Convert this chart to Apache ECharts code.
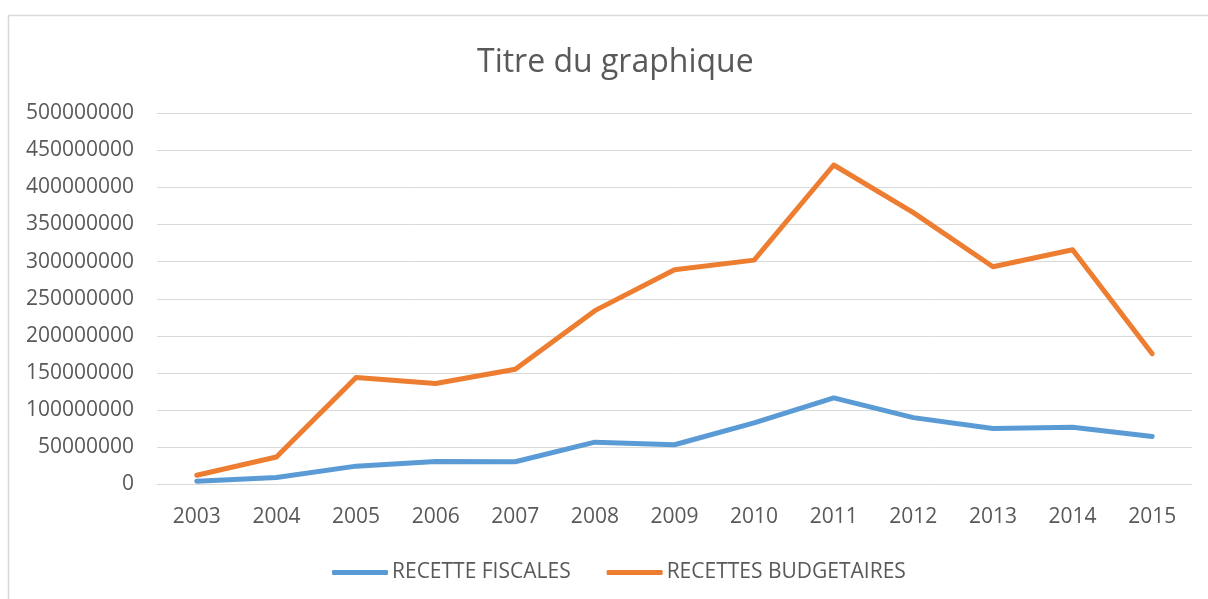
<!DOCTYPE html>
<html><head><meta charset="utf-8">
<script src="https://cdn.jsdelivr.net/npm/echarts@6/dist/echarts.min.js"></script>
<style>html,body{margin:0;padding:0;background:#fff}#c{width:1208px;height:599px}</style>
</head><body><div id="c"></div>
<script>
const years = ['2003','2004','2005','2006','2007','2008','2009','2010','2011','2012','2013','2014','2015'];
const recetteFiscales = [4500000, 9500000, 24700000, 31000000, 30600000, 57000000, 53500000, 83000000, 116500000, 90000000, 75500000, 77000000, 64500000];
const recettesBudgetaires = [12500000, 37000000, 144000000, 136000000, 155000000, 234000000, 289000000, 302000000, 430000000, 366000000, 293000000, 316000000, 176000000];
const seriesNames = ['RECETTE FISCALES', 'RECETTES BUDGETAIRES'];
const yTicks = {min: 0, max: 500000000, interval: 50000000};

const font = 'Open Sans';
const chart = echarts.init(document.getElementById('c'));
chart.setOption({
  animation: false,
  backgroundColor: '#fff',
  graphic: [{type: 'rect', shape: {x: 8.5, y: 15.5, width: 1220, height: 610}, style: {fill: 'none', stroke: '#d9d9d9', lineWidth: 1.6}}],
  title: {text: 'Titre du graphique', left: 472, top: 42,
    textStyle: {fontFamily: font, fontSize: 32, fontWeight: 'normal', color: '#595959'}},
  grid: {left: 157, right: 16, top: 113, bottom: 114.5},
  legend: {top: 557, left: 327, itemWidth: 56, itemHeight: 5, itemGap: 36, icon: 'roundRect',
    textStyle: {fontFamily: font, fontSize: 21, color: '#595959', padding: [0,0,0,-1]},
    data: seriesNames},
  xAxis: {type: 'category', data: years, boundaryGap: true,
    axisLine: {lineStyle: {color: '#d9d9d9', width: 1}}, axisTick: {show: false},
    axisLabel: {fontFamily: font, fontSize: 21, color: '#595959', margin: 22}},
  yAxis: {type: 'value', min: yTicks.min, max: yTicks.max, interval: yTicks.interval,
    axisLine: {show: false}, axisTick: {show: false},
    splitLine: {lineStyle: {color: '#d9d9d9', width: 1}},
    axisLabel: {fontFamily: font, fontSize: 21, color: '#595959', margin: 23,
      formatter: function (v) { return String(v); }}},
  series: [
    {name: seriesNames[0], type: 'line', data: recetteFiscales, showSymbol: false, symbol: 'none',
     itemStyle: {color: '#5B9BD5'}, lineStyle: {color: '#5B9BD5', width: 5, cap: 'round', join: 'round'}},
    {name: seriesNames[1], type: 'line', data: recettesBudgetaires, showSymbol: false, symbol: 'none',
     itemStyle: {color: '#ED7D31'}, lineStyle: {color: '#ED7D31', width: 5, cap: 'round', join: 'round'}}
  ]
});
</script></body></html>
